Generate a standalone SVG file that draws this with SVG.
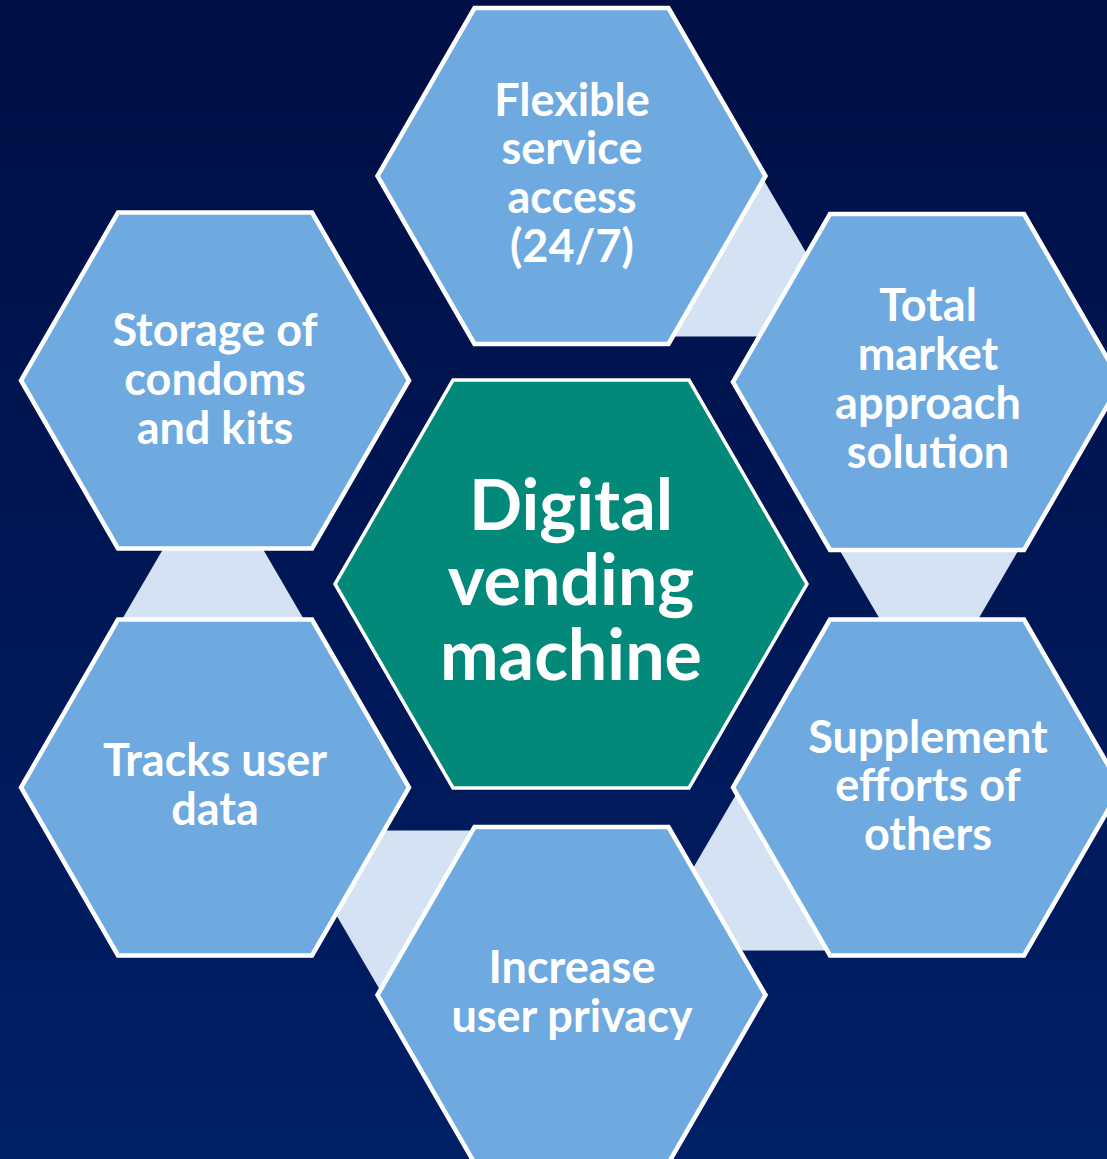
<svg xmlns="http://www.w3.org/2000/svg" width="1107" height="1159" viewBox="0 0 1107 1159">
<defs>
<linearGradient id="bg" x1="0" y1="0" x2="0" y2="1">
<stop offset="0" stop-color="#000f45"/>
<stop offset="1" stop-color="#001f66"/>
</linearGradient>
<polygon id="hexR" points="-97,-168 97,-168 194,0 97,168 -97,168 -194,0"/>
<polygon id="conn" points="239,-80 470,-80 377.6,80 331.4,80"/>
</defs>
<style>
.ring{fill:#6eaadf;stroke:#ffffff;stroke-width:4.5;stroke-linejoin:miter}
.core{fill:#03897a;stroke:#ffffff;stroke-width:3.5}
.cn{fill:#d4e2f3}
.t{font-family:Lato,"Open Sans","Liberation Sans",sans-serif;font-weight:700;fill:#ffffff;text-anchor:middle;font-size:45px}
.tc{font-family:Lato,"Open Sans","Liberation Sans",sans-serif;font-weight:700;fill:#ffffff;text-anchor:middle;font-size:70px}
</style>
<rect width="1107" height="1159" fill="url(#bg)"/>
<g id="connectors">
<use href="#conn" class="cn" transform="translate(571,583.5) scale(1.01,1) rotate(0)"/>
<use href="#conn" class="cn" transform="translate(571,583.5) scale(1.01,1) rotate(60)"/>
<use href="#conn" class="cn" transform="translate(571,583.5) scale(1.01,1) rotate(120)"/>
<use href="#conn" class="cn" transform="translate(571,583.5) scale(1.01,1) rotate(180)"/>
<use href="#conn" class="cn" transform="translate(571,583.5) scale(1.01,1) rotate(300)"/>
</g>
<g id="node-flexible">
<use href="#hexR" class="ring" transform="translate(571.5,176)"/>
<text class="t"><tspan x="572" y="116">Flexible</tspan><tspan x="572" y="164">service</tspan><tspan x="572" y="213">access</tspan><tspan x="572" y="262">(24/7)</tspan></text>
</g>
<g id="node-total">
<use href="#hexR" class="ring" transform="translate(927,382)"/>
<text class="t"><tspan x="928" y="321">Total</tspan><tspan x="928" y="370">market</tspan><tspan x="928" y="419">approach</tspan><tspan x="928" y="468">solution</tspan></text>
</g>
<g id="node-supplement">
<use href="#hexR" class="ring" transform="translate(927,787.5)"/>
<text class="t"><tspan x="928" y="753">Supplement</tspan><tspan x="928" y="801">efforts of</tspan><tspan x="928" y="850">others</tspan></text>
</g>
<g id="node-privacy">
<use href="#hexR" class="ring" transform="translate(571.5,995)"/>
<text class="t"><tspan x="572" y="983">Increase</tspan><tspan x="572" y="1032">user privacy</tspan></text>
</g>
<g id="node-tracks">
<use href="#hexR" class="ring" transform="translate(215,787.5)"/>
<text class="t"><tspan x="215" y="776">Tracks user</tspan><tspan x="215" y="825">data</tspan></text>
</g>
<g id="node-storage">
<use href="#hexR" class="ring" transform="translate(215,380.5)"/>
<text class="t"><tspan x="215" y="346">Storage of</tspan><tspan x="215" y="395">condoms</tspan><tspan x="215" y="444">and kits</tspan></text>
</g>
<g id="node-center">
<polygon class="core" points="453,380 689,380 807,584 689,788 453,788 335,584"/>
<text class="tc"><tspan x="571" y="530">Digital</tspan><tspan x="571" y="605">vending</tspan><tspan x="571" y="680">machine</tspan></text>
</g>
</svg>
